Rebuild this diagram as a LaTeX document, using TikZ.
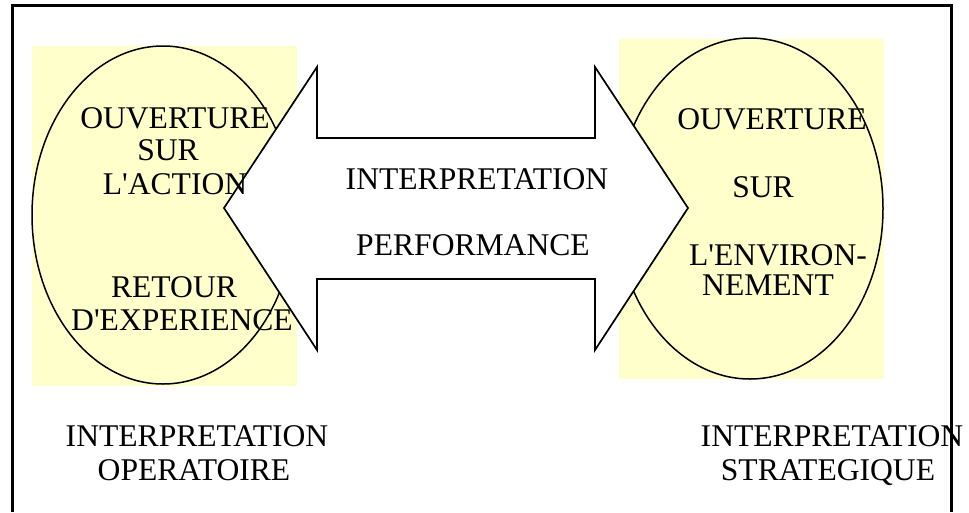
\documentclass[tikz,border=0pt]{standalone}
\usepackage{fontspec}
\setmainfont{Liberation Serif}
\usepackage{tikz}
\usetikzlibrary{positioning}
\definecolor{paleyellow}{RGB}{255,255,204}

\tikzset{
  lbl/.style={font=\fontsize{31.6}{33}\selectfont, inner sep=0pt, anchor=base},
  zone/.style={fill=paleyellow, draw=none},
}

\begin{document}
\begin{tikzpicture}[x=1pt, y=-1pt]
\useasboundingbox (0,0) rectangle (969,512);

% Frame
\draw[line width=3pt] (12.5,512) -- (12.5,5) -- (951.5,5) -- (951.5,512);

% Zones
\fill[zone] (32,46) rectangle (297,386);
\fill[zone] (619,39) rectangle (884,379);
\draw[fill=paleyellow, line width=1.5pt] (163,215) ellipse [x radius=131, y radius=169];
\draw[fill=paleyellow, line width=1.5pt] (750,208.5) ellipse [x radius=133, y radius=170.5];

% Double arrow
\draw[fill=white, line width=1.7pt] (224,208) -- (317,67) -- (317,138) -- (595,138)
  -- (595,67) -- (688,208) -- (595,350) -- (595,279) -- (317,279) -- (317,350) -- cycle;

% Operational side
\node[lbl] (ouvA) at (175,128) {OUVERTURE};
\node[lbl] (surA) at (168,160) {SUR};
\node[lbl] (action) at (175,194) {L\textquotesingle ACTION};
\node[lbl] (retour) at (174,297) {RETOUR};
\node[lbl] (experience) at (182,330) {D\textquotesingle EXPERIENCE};

% Strategic side
\node[lbl] (ouvB) at (772,129) {OUVERTURE};
\node[lbl] (surB) at (763,197) {SUR};
\node[lbl] (environ) at (778,265) {L\textquotesingle ENVIRON-};
\node[lbl] (nement) at (768,295) {NEMENT};

% Arrow text
\node[lbl] (interp) at (477,189) {INTERPRETATION};
\node[lbl] (perf) at (473,255) {PERFORMANCE};

% Captions
\node[lbl] (interpO) at (197,446) {INTERPRETATION};
\node[lbl] (operatoire) at (194,480) {OPERATOIRE};
\node[lbl] (interpS) at (832,446) {INTERPRETATION};
\node[lbl] (strategique) at (828,480) {STRATEGIQUE};
\end{tikzpicture}
\end{document}
